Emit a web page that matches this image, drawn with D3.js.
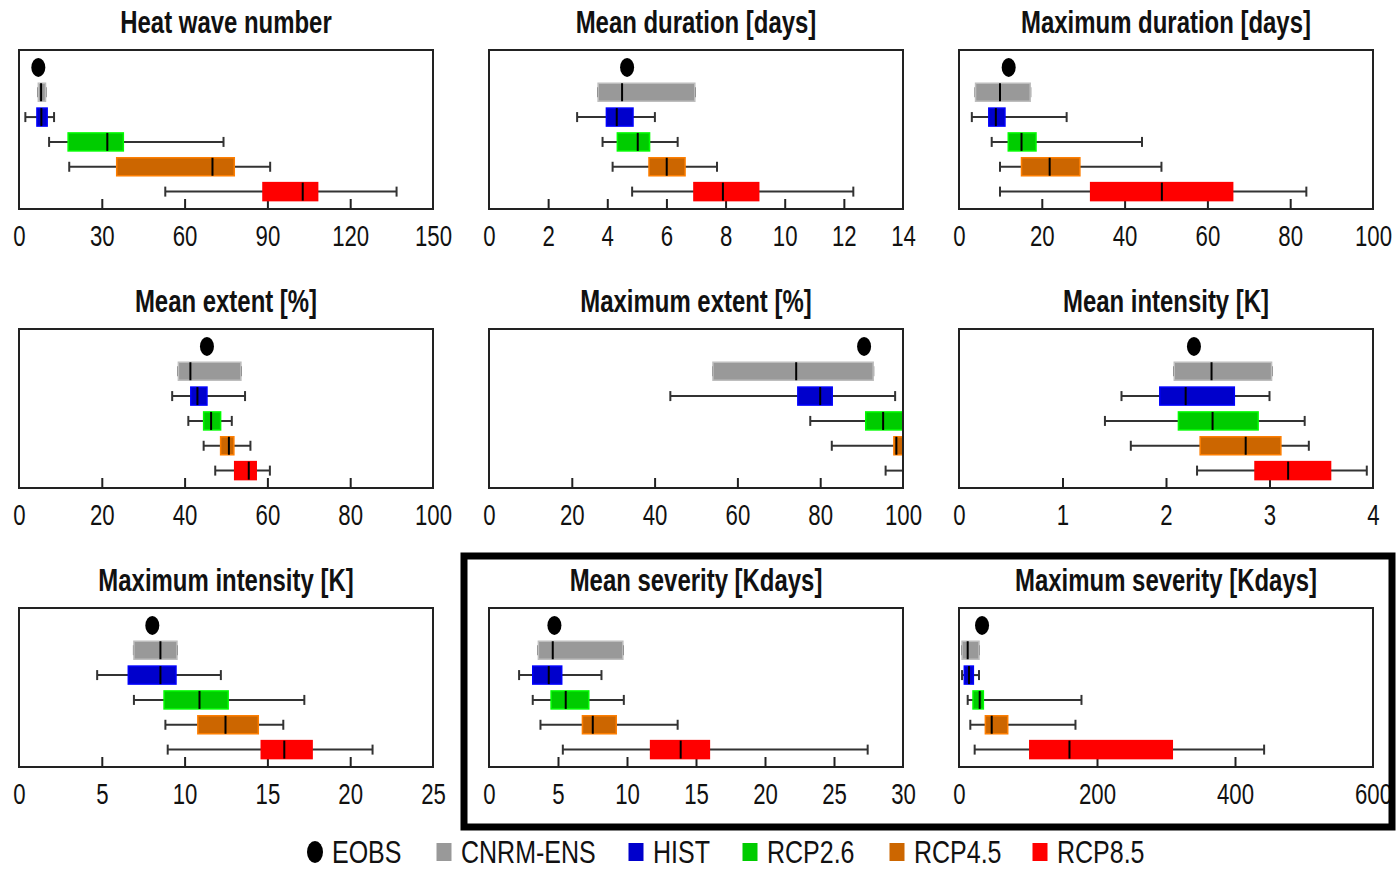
<!DOCTYPE html>
<html><head><meta charset="utf-8">
<script src="https://cdn.jsdelivr.net/npm/d3@7"></script>
<style>
body{margin:0;background:#fff;}
svg{display:block;font-family:"Liberation Sans",Arial,sans-serif;}
</style></head><body><svg id="chart" width="1399" height="869"></svg>
<script>
// scenarios, top row is the observed value (dot)
const series = ["EOBS", "CNRM-ENS", "HIST", "RCP2.6", "RCP4.5", "RCP8.5"];
const colors = ["#000000", "#999999", "#0000cc", "#00cc00", "#cc6600", "#ff0000"];

const titles = ["Heat wave number", "Mean duration [days]", "Maximum duration [days]",
  "Mean extent [%]", "Maximum extent [%]", "Mean intensity [K]",
  "Maximum intensity [K]", "Mean severity [Kdays]", "Maximum severity [Kdays]"];
const axisMax = [150, 14, 100, 100, 100, 4, 25, 30, 600];
const tickStep = [30, 2, 20, 20, 20, 1, 5, 5, 200];

const eobs = [7, 4.67, 12, 45.4, 90.6, 2.27, 8.05, 4.74, 33.4];

// [min, q1, median, q3, max] for CNRM-ENS, HIST, RCP2.6, RCP4.5, RCP8.5
const heatWaveNumber = [[7, 7, 8, 9.6, 9.6], [2.3, 6.5, 8.1, 10.2, 12.7], [10.9, 17.8, 32, 37.8, 74.1], [18.2, 35.4, 70.1, 78, 91], [53, 88.4, 102.8, 108.2, 136.8]];
const meanDuration = [[3.69, 3.69, 4.5, 6.96, 6.96], [2.98, 3.97, 4.32, 4.87, 5.61], [3.84, 4.34, 5.03, 5.43, 6.38], [4.18, 5.41, 6.01, 6.63, 7.71], [4.84, 6.93, 7.91, 9.12, 12.32]];
const maxDuration = [[4, 4, 9.9, 17.2, 17.2], [3.1, 7.2, 8.9, 11.1, 26], [7.9, 11.9, 15.1, 18.6, 44.2], [9.9, 15.1, 21.9, 29.2, 48.9], [9.9, 31.8, 49, 66.1, 83.9]];
const meanExtent = [[38.5, 38.5, 41.4, 53.6, 53.6], [37, 41.5, 43.1, 45.4, 54.6], [40.9, 44.6, 46.4, 48.7, 51.4], [44.6, 48.7, 50.7, 51.9, 55.9], [47.4, 52.1, 55.5, 57.3, 60.6]];
const maxExtent = [[54.1, 54.1, 74.2, 92.8, 92.8], [43.8, 74.6, 80, 82.9, 98.1], [77.6, 91, 95.2, 100, 100], [82.8, 97.8, 98.4, 100, 100], [95.8, 100, 100, 100, 100]];
const meanIntensity = [[2.08, 2.08, 2.44, 3.02, 3.02], [1.57, 1.94, 2.19, 2.66, 3], [1.41, 2.12, 2.45, 2.89, 3.34], [1.66, 2.33, 2.77, 3.11, 3.38], [2.3, 2.86, 3.18, 3.59, 3.94]];
const maxIntensity = [[6.94, 6.94, 8.54, 9.54, 9.54], [4.72, 6.6, 8.54, 9.48, 12.19], [6.94, 8.76, 10.9, 12.63, 17.23], [8.84, 10.8, 12.47, 14.45, 15.96], [8.98, 14.63, 16.02, 17.7, 21.35]];
const meanSeverity = [[3.58, 3.58, 4.62, 9.7, 9.7], [2.18, 3.17, 4.33, 5.27, 8.15], [3.17, 4.5, 5.56, 7.23, 9.77], [3.73, 6.77, 7.52, 9.22, 13.67], [5.35, 11.71, 13.89, 15.97, 27.44]];
const maxSeverity = [[4.4, 4.4, 12.6, 29, 29], [4.4, 7.7, 14.5, 20.8, 29], [12.6, 20.3, 30, 35.3, 177.5], [16.4, 38.2, 47.4, 70.6, 168.8], [22.7, 102.6, 160.1, 309.1, 442.2]];

const boxes = [heatWaveNumber, meanDuration, maxDuration, meanExtent, maxExtent,
  meanIntensity, maxIntensity, meanSeverity, maxSeverity];

const svg = d3.select("#chart");
const colLeft = [19, 489, 959], rowTop = [50, 329, 608];
const pw = 414, ph = 159, boxH = 18, capH = 10;

// the original used a narrow font, squeeze Liberation Sans horizontally instead
titles.forEach(function (title, i) {
  const left = colLeft[i % 3], top = rowTop[Math.floor(i / 3)];
  const g = svg.append("g");
  const x = d3.scaleLinear().domain([0, axisMax[i]]).range([left, left + pw]);
  const y = d3.scaleLinear().domain([-0.7, 5.7]).range([top, top + ph]);
  const ticks = d3.range(0, axisMax[i] + tickStep[i] / 2, tickStep[i]);

  g.append("text")
    .attr("transform", "translate(" + (left + pw / 2) + "," + (top - 28) + ") scale(0.785,1)")
    .attr("dy", "0.35em")
    .attr("text-anchor", "middle")
    .style("font-size", "30.5px").style("font-weight", "bold").attr("fill", "#111")
    .text(title);

  // inner tick marks
  const inner = g.append("g").attr("transform", "translate(0," + (top + ph) + ")")
    .call(d3.axisTop(x).tickValues(ticks.slice(1, -1)).tickSize(10).tickFormat(""));
  inner.select(".domain").remove();
  inner.selectAll("line").attr("stroke", "#222").attr("stroke-width", 2);

  const labels = g.append("g").attr("transform", "translate(0," + (top + ph) + ")")
    .call(d3.axisBottom(x).tickValues(ticks).tickSize(0).tickFormat(d3.format("~g")));
  labels.select(".domain").remove();
  labels.selectAll("text").attr("y", 27).attr("dy", "0.35em")
    .attr("transform", "scale(0.74,1)")
    .attr("font-family", null).attr("font-size", null)
    .style("font-size", "30px").attr("fill", "#111");

  // whiskers
  const rows = g.selectAll(".bx").data(boxes[i]).enter().append("g").attr("class", "bx");
  rows.append("line")
    .attr("x1", d => x(d[0])).attr("x2", d => x(d[4]))
    .attr("y1", (d, k) => y(k + 1)).attr("y2", (d, k) => y(k + 1))
    .attr("stroke", "#333").attr("stroke-width", 2);
  [0, 4].forEach(function (j) {
    rows.append("line")
      .attr("x1", d => x(d[j])).attr("x2", d => x(d[j]))
      .attr("y1", (d, k) => y(k + 1) - capH / 2).attr("y2", (d, k) => y(k + 1) + capH / 2)
      .attr("stroke", "#333").attr("stroke-width", 2);
  });
  rows.append("rect")
    .attr("x", d => x(d[1])).attr("width", d => x(d[3]) - x(d[1]))
    .attr("y", (d, k) => y(k + 1) - boxH / 2).attr("height", boxH)
    .attr("fill", (d, k) => colors[k + 1])
    .attr("stroke", (d, k) => d3.color(colors[k + 1]).brighter(0.6))
    .attr("stroke-width", 1.5);
  rows.append("line")
    .attr("x1", d => x(d[2])).attr("x2", d => x(d[2]))
    .attr("y1", (d, k) => y(k + 1) - boxH / 2).attr("y2", (d, k) => y(k + 1) + boxH / 2)
    .attr("stroke", "#000").attr("stroke-width", 2);

  g.append("ellipse")
    .attr("cx", x(eobs[i])).attr("cy", y(0)).attr("rx", 7).attr("ry", 9.5)
    .attr("fill", "#000");

  g.append("rect")
    .attr("x", left).attr("y", top).attr("width", pw).attr("height", ph)
    .attr("fill", "none").attr("stroke", "#222").attr("stroke-width", 2);
});

// highlight frame around the severity panels
svg.append("rect")
  .attr("x", 464).attr("y", 556).attr("width", 928).attr("height", 271)
  .attr("fill", "none").attr("stroke", "#000").attr("stroke-width", 7);

// legend
const legendX = [315, 444, 636, 750, 897, 1040];
const leg = svg.append("g").attr("transform", "translate(0,852)");
series.forEach(function (s, k) {
  if (k === 0) {
    leg.append("ellipse").attr("cx", legendX[k]).attr("cy", 0).attr("rx", 8).attr("ry", 11).attr("fill", colors[k]);
  } else {
    leg.append("rect").attr("x", legendX[k] - 7.5).attr("y", -9).attr("width", 15).attr("height", 18).attr("fill", colors[k]);
  }
  leg.append("text")
    .attr("transform", "translate(" + (legendX[k] + 17) + ",0) scale(0.82,1)")
    .attr("dy", "0.35em")
    .style("font-size", "30.5px").attr("fill", "#111").text(s);
});
</script></body></html>
